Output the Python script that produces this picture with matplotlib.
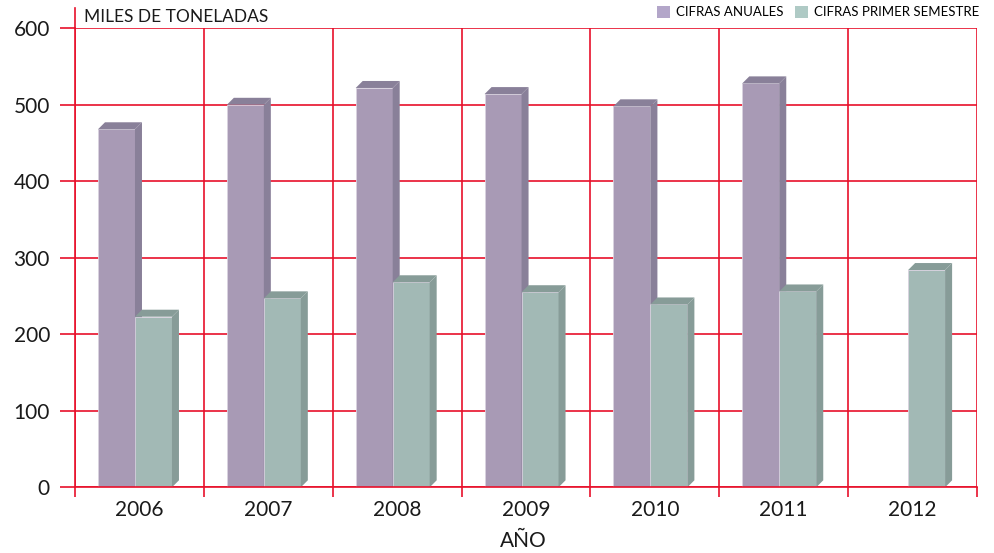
import matplotlib.pyplot as plt
from matplotlib.patches import Polygon, Patch
from matplotlib.lines import Line2D
import numpy as np

# data
years = ["2006", "2007", "2008", "2009", "2010", "2011", "2012"]
anuales = [468, 500, 522, 514, 498, 528, None]
semestre = [223, 247, 268, 255, 239, 256, 284]

red = "#e8102b"
purple = "#a89ab5"
purple_dark = "#898099"
green = "#a2b9b5"
green_dark = "#879c98"

plt.rcParams['font.family'] = ['Lato', 'DejaVu Sans']

fig = plt.figure(figsize=(9.95, 5.53), dpi=100)
ax = fig.add_axes([75 / 995, 1 - 487.3 / 553, 902 / 995, (487.3 - 28.3) / 553])
ax.set_xlim(-0.5, 6.5)
ax.set_ylim(0, 600)

x = np.arange(len(years))
width = 0.287
off_a = -0.178
off_s = 0.109
# depth of the fake 3d effect (7 px each way)
ddx = 7 / 128.9
ddy = 7 / 76.5 * 100


def bar3d(xc, h, face, dark):
    x0 = xc - width / 2
    x1 = xc + width / 2
    ax.bar(xc, h, width, color=face, edgecolor="#d9d2e0", linewidth=0.6, zorder=3)
    side = Polygon([(x1, 0), (x1 + ddx, ddy), (x1 + ddx, h + ddy), (x1, h)],
                   closed=True, facecolor=dark, edgecolor="none", zorder=3)
    top = Polygon([(x0, h), (x0 + ddx, h + ddy), (x1 + ddx, h + ddy), (x1, h)],
                  closed=True, facecolor=dark, edgecolor="none", zorder=3, clip_on=False)
    ax.add_patch(side)
    ax.add_patch(top)


for i in range(len(years)):
    if anuales[i] is not None:
        bar3d(x[i] + off_a, anuales[i], purple, purple_dark)
    bar3d(x[i] + off_s, semestre[i], green, green_dark)

# grid and ticks
ax.set_yticks(range(0, 601, 100))
ax.set_xticks(x)
ax.set_xticklabels(years)
ax.set_xticks(np.arange(-0.5, 7, 1), minor=True)
ax.grid(True, axis="y", which="major", color=red, linewidth=1.2, zorder=1)
ax.grid(True, axis="x", which="minor", color=red, linewidth=1.2, zorder=1)
ax.tick_params(axis="y", which="major", length=11, width=1.2, color=red,
               labelsize=15, pad=7, labelcolor="#1a1a1a")
ax.tick_params(axis="x", which="major", length=0, labelsize=15, pad=9,
               labelcolor="#1a1a1a")
ax.tick_params(axis="x", which="minor", length=7, width=1.2, color=red)
ax.set_axisbelow(True)

for s in ["top", "right"]:
    ax.spines[s].set_visible(False)
ax.spines["left"].set_color(red)
ax.spines["bottom"].set_color(red)
ax.spines["left"].set_linewidth(1.2)
ax.spines["bottom"].set_linewidth(1.2)
ax.spines["bottom"].set_zorder(4)
# left axis goes a bit higher than 600
ax.add_line(Line2D([0, 0], [1, 1.045], transform=ax.transAxes, color=red,
                   linewidth=1.2, clip_on=False))

fig.text(523 / 995, 1 - 541 / 553, "AÑO", fontsize=15, ha="center", va="center",
         color="#1a1a1a")
fig.text(84 / 995, 1 - 17 / 553, "MILES DE TONELADAS", fontsize=12.5,
         va="center", ha="left", color="#1a1a1a")

handles = [Patch(facecolor="#b3a6c9", edgecolor="none", label="CIFRAS ANUALES"),
           Patch(facecolor="#afcac5", edgecolor="none", label="CIFRAS PRIMER SEMESTRE")]
ax.legend(handles=handles, loc="center right", bbox_to_anchor=(1.002, 1.035),
          ncol=2, frameon=False, fontsize=9.5, handlelength=1.0, handleheight=1.0,
          handletextpad=0.4, columnspacing=0.9, borderaxespad=0, borderpad=0)

fig.savefig("out.png", dpi=100)
